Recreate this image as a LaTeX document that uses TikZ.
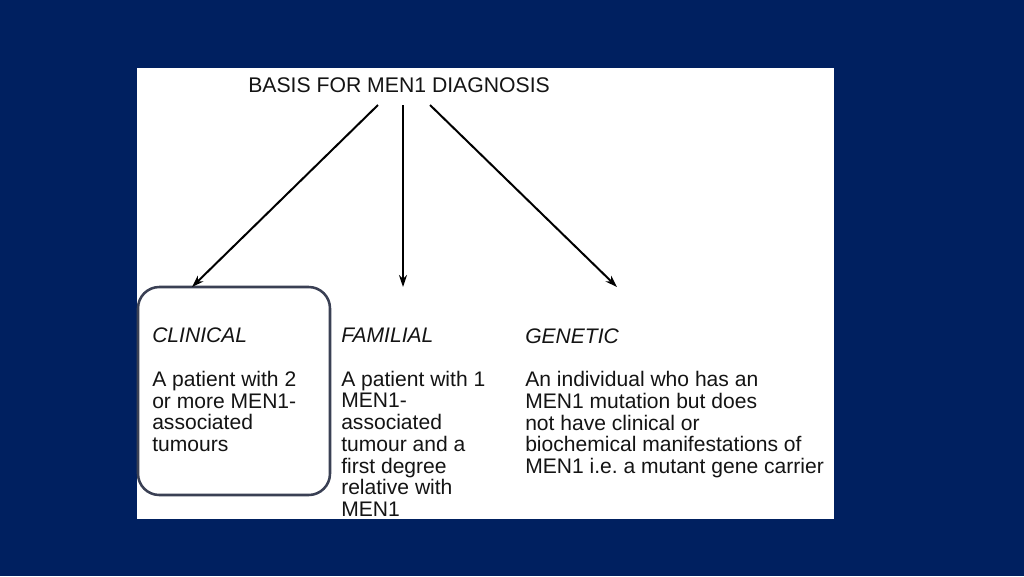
\documentclass[tikz,border=0pt]{standalone}
\usepackage{fontspec}
\setmainfont{Liberation Sans}
\usetikzlibrary{arrows.meta}
\definecolor{navy}{RGB}{0,32,96}
\definecolor{boxline}{RGB}{58,64,84}
\definecolor{txt}{RGB}{20,20,20}
\frenchspacing
\begin{document}
\begin{tikzpicture}[x=0.75pt,y=-0.75pt,
  coltext/.style={anchor=base west,inner sep=0pt,align=left,text=txt,
    font=\fontsize{15.8}{16.3}\selectfont},
  arr/.style={line width=1.5pt,-{Stealth[length=9pt,width=6pt]}}]
\fill[navy] (0,0) rectangle (1024,576);
\useasboundingbox (0,0) rectangle (1024,576);
\fill[white] (137,68) rectangle (834,519);
\node[draw=boxline,line width=1.9pt,rounded corners=16pt,minimum width=144pt,minimum height=156pt,inner sep=0pt] (clinbox) at (234,391) {};
\node[anchor=base west,inner sep=0pt,text=txt,font=\fontsize{15.9}{18}\selectfont] (title) at (248,92) {BASIS FOR MEN1 DIAGNOSIS};
\node[coltext] (clin) at (152,451.5) {\textit{CLINICAL}\\[16.3pt]A patient with 2\\or more MEN1-\\associated\\tumours};
\node[coltext] (fam) at (341,516.5) {\textit{FAMILIAL}\\[16.3pt]A patient with 1\\MEN1-\\associated\\tumour and a\\first degree\\relative with\\MEN1};
\node[coltext] (gen) at (525,473.5) {\textit{GENETIC}\\[16.3pt]An individual who has an\\MEN1 mutation but does\\not have clinical or\\biochemical manifestations of\\MEN1 i.e. a mutant gene carrier};
\coordinate (s1) at (378,105);
\coordinate (s2) at (403,105);
\coordinate (s3) at (430,105);
\coordinate (e1) at (192,287);
\coordinate (e2) at (403,287);
\coordinate (e3) at (617,287);
\draw[arr] (s1) -- (e1);
\draw[arr] (s2) -- (e2);
\draw[arr] (s3) -- (e3);
\end{tikzpicture}
\end{document}
